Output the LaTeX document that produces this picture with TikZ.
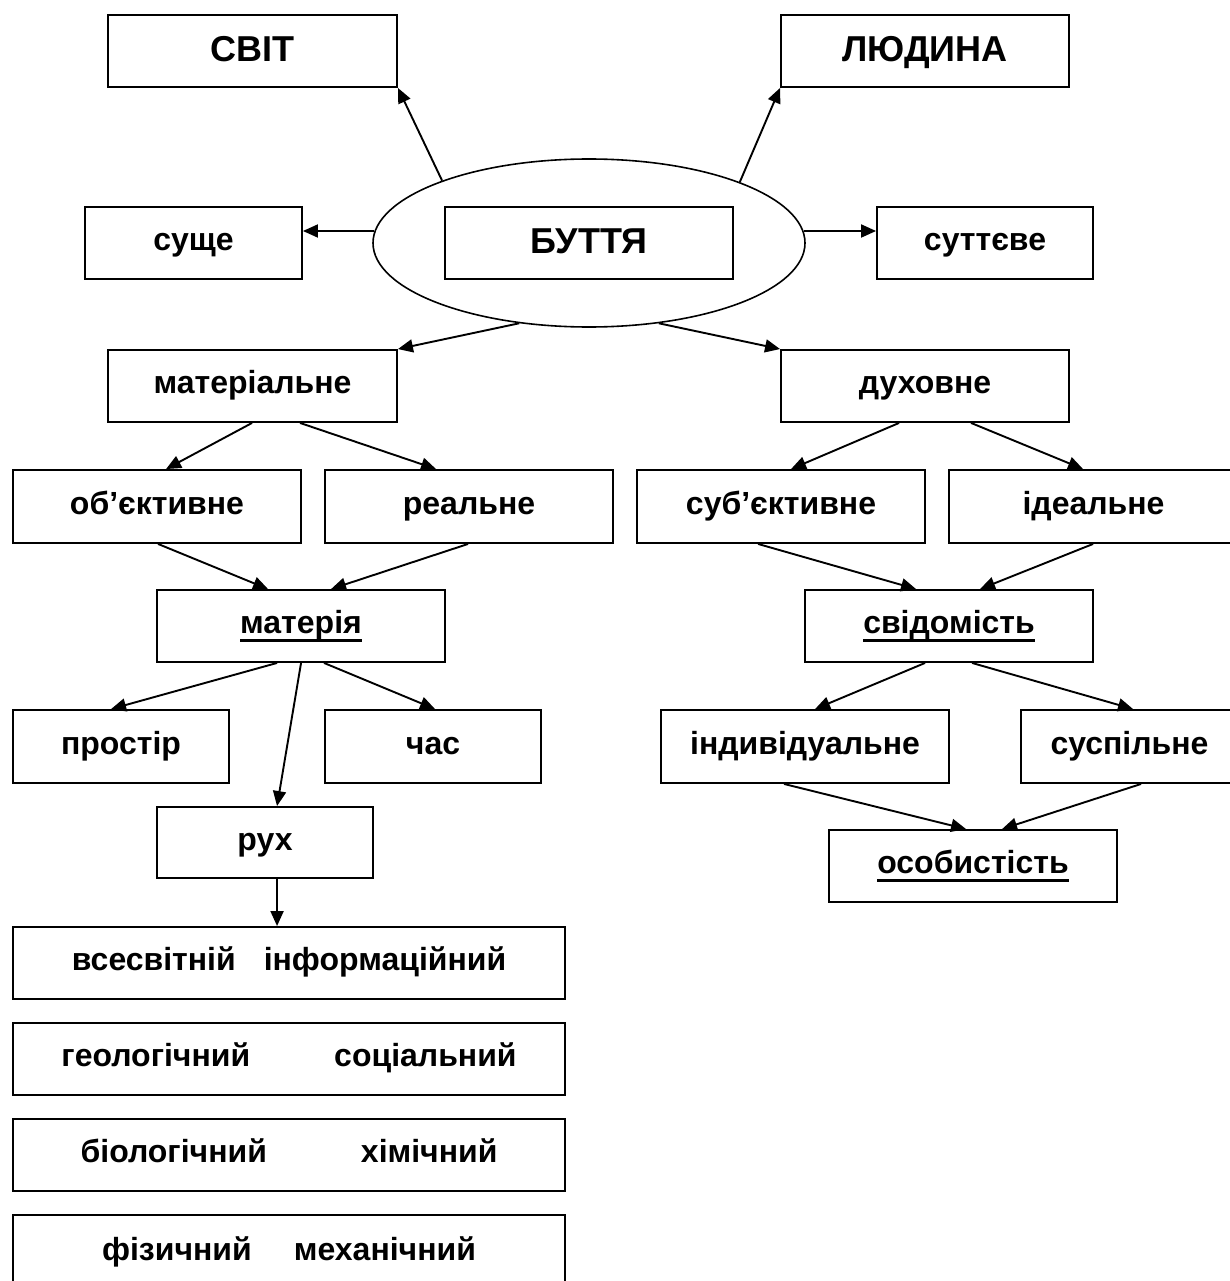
\documentclass[tikz,border=0pt]{standalone}
\usepackage{fontspec}
\setmainfont{Liberation Sans}
\usetikzlibrary{arrows.meta,shapes.geometric}
\newcommand\ulw[1]{\setbox0=\hbox{#1}\rlap{\rule[-8pt]{\wd0}{2.6pt}}\box0}
\newcommand\mybox[7]{%
  \node[#1, minimum width={(#5)-(#3)}, minimum height={(#6)-(#4)}] (#2) at ({((#3)+(#5))/2},{((#4)+(#6))/2}) {#7};}
\tikzset{
  boxst/.style={draw, line width=1.9pt, inner sep=0pt, font=\fontsize{32}{36}\bfseries\selectfont, text height=22pt, text depth=7pt},
  capst/.style={boxst, font=\fontsize{36}{40}\bfseries\selectfont, text height=26pt, text depth=4pt},
  arr/.style={line width=1.9pt, -{Triangle[length=15pt,width=13pt]}},
}
\begin{document}
\begin{tikzpicture}[x=1pt,y=-1pt]
\fill[white] (0,0) rectangle (1229,1281);
\useasboundingbox (0,0) rectangle (1229,1281);
% top
\mybox{capst}{svit}{108}{15}{397}{87}{СВІТ}
\mybox{capst}{lyud}{781}{15}{1069}{87}{ЛЮДИНА}
\node[ellipse, draw, line width=1.6pt, minimum width=432, minimum height=168, inner sep=0pt] (ell) at (589,243) {};
\mybox{capst}{butt}{445}{207}{733}{279}{БУТТЯ}
\mybox{boxst}{sushe}{85}{207}{302}{279}{суще}
\mybox{boxst}{sutt}{877}{207}{1093}{279}{суттєве}
% level 2
\mybox{boxst}{mat}{108}{350}{397}{422}{матеріальне}
\mybox{boxst}{duh}{781}{350}{1069}{422}{духовне}
% level 3
\mybox{boxst}{obj}{13}{470}{301}{543}{об’єктивне}
\mybox{boxst}{real}{325}{470}{613}{543}{реальне}
\mybox{boxst}{subj}{637}{470}{925}{543}{суб’єктивне}
\mybox{boxst}{ideal}{949}{470}{1238}{543}{ідеальне}
% level 4
\mybox{boxst}{materia}{157}{590}{445}{662}{\ulw{матерія}}
\mybox{boxst}{svid}{805}{590}{1093}{662}{\ulw{свідомість}}
% level 5
\mybox{boxst}{prostir}{13}{710}{229}{783}{простір}
\mybox{boxst}{chas}{325}{710}{541}{783}{час}
\mybox{boxst}{indiv}{661}{710}{949}{783}{індивідуальне}
\mybox{boxst}{susp}{1021}{710}{1238}{783}{суспільне}
\mybox{boxst}{rukh}{157}{807}{373}{878}{рух}
\mybox{boxst}{osob}{829}{830}{1117}{902}{\ulw{особистість}}
% motion forms
\mybox{boxst}{vses}{13}{927}{565}{999}{всесвітній\hspace{28pt}інформаційний}
\mybox{boxst}{geol}{13}{1023}{565}{1095}{геологічний\hspace{84pt}соціальний}
\mybox{boxst}{biol}{13}{1119}{565}{1191}{біологічний\hspace{94pt}хімічний}
\mybox{boxst}{fiz}{13}{1215}{565}{1290}{фізичний\hspace{42pt}механічний}
% connectors
\draw[arr] (ell.157.3) -- (svit.south east);
\draw[arr] (ell.22.9) -- (lyud.south west);
\coordinate (eL) at ([xshift=2.2pt,yshift=12pt]ell.west);
\coordinate (eR) at ([xshift=-2.2pt,yshift=12pt]ell.east);
\draw[arr] (eL) -- (eL -| sushe.east);
\draw[arr] (eR) -- (eR -| sutt.west);
\draw[arr] (ell.229) -- (mat.north east);
\draw[arr] (ell.311) -- (duh.north west);
\draw[arr] ([xshift=145pt]mat.south west) -- ([xshift=154pt]obj.north west);
\draw[arr] ([xshift=193pt]mat.south west) -- ([xshift=112pt]real.north west);
\draw[arr] ([xshift=119pt]duh.south west) -- ([xshift=155pt]subj.north west);
\draw[arr] ([xshift=191pt]duh.south west) -- ([xshift=135pt]ideal.north west);
\draw[arr] ([xshift=146pt]obj.south west) -- ([xshift=112pt]materia.north west);
\draw[arr] ([xshift=144pt]real.south west) -- ([xshift=175pt]materia.north west);
\draw[arr] ([xshift=122pt]subj.south west) -- ([xshift=112pt]svid.north west);
\draw[arr] ([xshift=145pt]ideal.south west) -- ([xshift=176pt]svid.north west);
\draw[arr] ([xshift=121pt]materia.south west) -- ([xshift=99pt]prostir.north west);
\draw[arr] ([xshift=145pt]materia.south west) -- ([xshift=121pt]rukh.north west);
\draw[arr] ([xshift=168pt]materia.south west) -- ([xshift=111pt]chas.north west);
\draw[arr] ([xshift=121pt]svid.south west) -- ([xshift=155pt]indiv.north west);
\draw[arr] ([xshift=168pt]svid.south west) -- ([xshift=113pt]susp.north west);
\draw[arr] ([xshift=124pt]indiv.south west) -- ([xshift=138pt]osob.north west);
\draw[arr] ([xshift=121pt]susp.south west) -- ([xshift=174pt]osob.north west);
\draw[arr] ([xshift=121pt]rukh.south west) -- ([xshift=265pt]vses.north west);
\end{tikzpicture}
\end{document}
